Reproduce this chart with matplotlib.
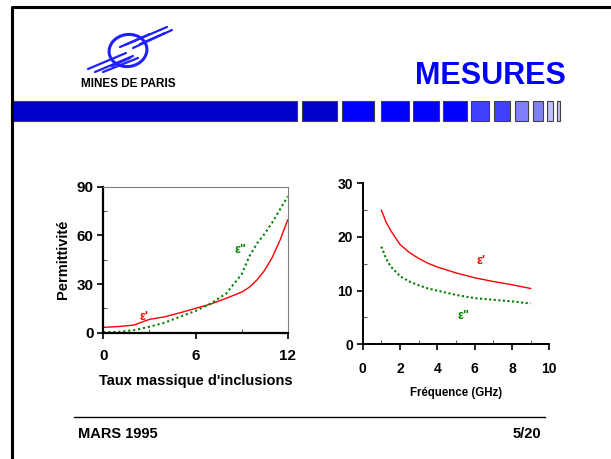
import numpy as np
import matplotlib.pyplot as plt
from matplotlib.patches import Rectangle, Ellipse
from matplotlib.ticker import MultipleLocator

plt.rcParams['font.family'] = ['Liberation Sans', 'DejaVu Sans']

# left chart : permittivity vs mass fraction of inclusions
taux = [0, 1, 2, 2.5, 3, 3.5, 4, 5, 6, 7, 8, 9, 9.5, 10, 10.5, 11, 11.5, 12]
eps1_taux = [3.3, 3.8, 4.7, 6.5, 8.2, 9.0, 9.8, 12.3, 15, 17.7, 21.2, 25, 28, 32.5, 38.5, 46.5, 57, 69.5]
eps2_taux = [0.3, 0.5, 1.6, 2.6, 3.7, 4.9, 6.2, 9.9, 13.4, 18, 24.2, 36, 47, 55, 61, 68, 76, 84]

# right chart : permittivity vs frequency
freq = [1, 1.25, 1.5, 2, 2.5, 3, 3.5, 4, 5, 6, 7, 8, 9]
eps1_freq = [25, 22.8, 21.2, 18.6, 17.1, 16, 15.1, 14.4, 13.3, 12.4, 11.7, 11.1, 10.4]
eps2_freq = [18.2, 16, 14.5, 12.7, 11.7, 11.0, 10.4, 10.0, 9.2, 8.6, 8.3, 8.0, 7.6]

W, H = 611, 459
fig = plt.figure(figsize=(W / 100, H / 100), dpi=100)

# page decoration, in pixel coords
deco = fig.add_axes([0, 0, 1, 1])
deco.set_xlim(0, W)
deco.set_ylim(H, 0)
deco.axis('off')
deco.plot([11.5, 11.5, W], [H, 6.5, 6.5], color='black', lw=2.2)

# header bar
deco.add_patch(Rectangle((11, 101), 286, 20, fc='#0000cc', ec='#404040', lw=0.8))
segs = [(302, 337, '#0000cc'), (342, 374, '#0000ff'), (381, 409, '#0000ff'),
        (413, 439, '#0000ff'), (443, 467, '#0000ff'), (471, 489, '#4040ff'),
        (494, 510, '#4040ff'), (515, 528, '#8080ff'), (533, 543, '#8080ff'),
        (547, 553, '#c0c0ff'), (557, 560, '#c0c0ff')]
for x0, x1, c in segs:
    deco.add_patch(Rectangle((x0, 101), x1 - x0, 20, fc=c, ec='#404040', lw=0.8))

# logo
logo_c = '#2020ff'
deco.add_patch(Ellipse((128, 50.5), 38, 32, angle=-10, fill=False, ec=logo_c, lw=2.2))
for (xa, ya, xb, yb) in [(125, 45, 167, 27), (133, 48, 172, 30), (140, 44, 165, 33),
                         (120, 47, 150, 34),
                         (88, 69, 126, 53), (95, 72, 133, 56), (103, 72, 138, 58),
                         (112, 66, 130, 58)]:
    deco.plot([xa, xb], [ya, yb], color=logo_c, lw=1.6, solid_capstyle='round')
deco.text(128, 84, 'MINES DE PARIS', ha='center', va='center', fontsize=8.5, fontweight='bold')
deco.text(490, 76, 'MESURES', ha='center', va='center', fontsize=22, fontweight='bold', color='#0000ff')

# footer
deco.plot([74, 545], [416.5, 416.5], color='black', lw=1)
deco.text(78, 434, 'MARS 1995', ha='left', va='center', fontsize=10.5, fontweight='bold')
deco.text(541, 434, '5/20', ha='right', va='center', fontsize=10.5, fontweight='bold')

# left chart
ax1 = fig.add_axes([103.3 / W, (H - 332.7) / H, 184.4 / W, 146 / H])
ax1.plot(taux, eps1_taux, color='#ff0000', lw=1)
ax1.plot(taux, eps2_taux, color='#008000', lw=1.5, ls=(0, (1, 1.4)))
ax1.set_xlim(0, 12)
ax1.set_ylim(0, 90)
ax1.set_xticks([0, 6, 12])
ax1.set_yticks([0, 30, 60, 90])
ax1.xaxis.set_minor_locator(MultipleLocator(3))
ax1.yaxis.set_minor_locator(MultipleLocator(15))
ax1.tick_params(which='major', direction='out', length=4, width=1.2, labelsize=11, pad=3)
ax1.tick_params(axis='x', which='major', pad=8)
ax1.tick_params(which='minor', direction='in', length=3, width=0.8, colors='#606060')
for lab in ax1.get_xticklabels() + ax1.get_yticklabels():
    lab.set_fontweight('bold')
for s in ['left', 'bottom']:
    ax1.spines[s].set_linewidth(1.6)
for s in ['top', 'right']:
    ax1.spines[s].set_color('#808080')
    ax1.spines[s].set_linewidth(0.8)
ax1.set_xlabel("Taux massique d'inclusions", fontsize=10.5, fontweight='bold', labelpad=8)
ax1.set_ylabel('Permittivité', fontsize=10.5, fontweight='bold', labelpad=5)
ax1.text(2.67, 9.9, "ε'", color='#ff0000', fontsize=9, fontweight='bold', ha='center', va='center')
ax1.text(8.9, 51, 'ε"', color='#008000', fontsize=9, fontweight='bold', ha='center', va='center')

# right chart
ax2 = fig.add_axes([362.7 / W, (H - 344.3) / H, 186.6 / W, 161 / H])
ax2.plot(freq, eps1_freq, color='#ff0000', lw=1)
ax2.plot(freq, eps2_freq, color='#008000', lw=1.5, ls=(0, (1, 1.2)))
ax2.set_xlim(0, 10)
ax2.set_ylim(0, 30)
ax2.set_xticks(range(0, 11, 2))
ax2.set_yticks([0, 10, 20, 30])
ax2.xaxis.set_minor_locator(MultipleLocator(1))
ax2.yaxis.set_minor_locator(MultipleLocator(5))
ax2.tick_params(which='major', direction='out', length=4, width=1.2, labelsize=10, pad=3)
ax2.tick_params(axis='x', which='major', pad=9)
ax2.tick_params(which='minor', direction='in', length=3, width=0.8, colors='#606060')
for lab in ax2.get_xticklabels() + ax2.get_yticklabels():
    lab.set_fontweight('bold')
for s in ['left', 'bottom']:
    ax2.spines[s].set_linewidth(1.4)
ax2.spines['top'].set_visible(False)
ax2.spines['right'].set_visible(False)
ax2.set_xlabel('Fréquence (GHz)', fontsize=8.3, fontweight='bold', labelpad=8)
ax2.text(6.34, 15.6, "ε'", color='#ff0000', fontsize=9, fontweight='bold', ha='center', va='center')
ax2.text(5.4, 5.2, 'ε"', color='#008000', fontsize=9, fontweight='bold', ha='center', va='center')

fig.savefig('out.png', dpi=100)
